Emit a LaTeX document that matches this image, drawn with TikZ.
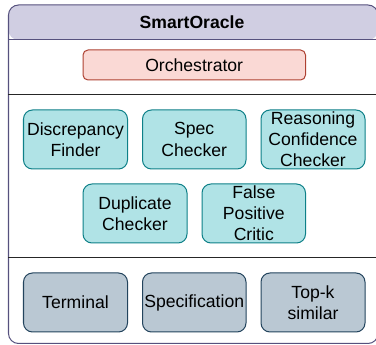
\documentclass[tikz,border=0pt]{standalone}
\usepackage{fontspec}
\setmainfont{Liberation Sans}
\definecolor{outerdraw}{HTML}{56517E}
\definecolor{headfill}{HTML}{D0CEE2}
\definecolor{orchfill}{HTML}{FAD9D5}
\definecolor{orchdraw}{HTML}{AE4132}
\definecolor{agentfill}{HTML}{B0E3E6}
\definecolor{agentdraw}{HTML}{0E8088}
\definecolor{toolfill}{HTML}{BAC8D3}
\definecolor{tooldraw}{HTML}{23445D}
\begin{document}
\begin{tikzpicture}[x=1pt,y=-1pt,
  every node/.style={font=\fontsize{17.6}{21.2}\selectfont, inner sep=0pt, align=center},
  agentbox/.style={draw=agentdraw, fill=agentfill, line width=1pt, rounded corners=9pt},
  toolbox/.style={draw=tooldraw, fill=toolfill, line width=1pt, rounded corners=9pt},
  sepline/.style={draw=black!85, line width=1pt}]
\useasboundingbox (0,0) rectangle (376,345);
\begin{scope}
\clip (0,0) rectangle (376,345);
% outer container
\fill[white, rounded corners=10pt] (8.5,5) rectangle (378,343.5);
\fill[headfill, rounded corners=10pt] (8.5,5) -- (378,5) -- (378,40) -- (8.5,40) -- cycle;
\draw[outerdraw, line width=1pt] (8.5,40) -- (378,40);
\draw[outerdraw, line width=1pt, rounded corners=10pt] (8.5,5) rectangle (378,343.5);
% separators
\draw[sepline] (8.5,95) -- (378,95);
\draw[sepline] (8.5,257.5) -- (378,257.5);
\end{scope}
\node[font=\fontsize{17.6}{21.2}\selectfont\bfseries] (title) at (192,22.5) {SmartOracle};
% orchestrator
\draw[orchdraw, fill=orchfill, line width=1pt, rounded corners=5pt] (83,50) rectangle (305.5,80);
\node (orch) at (194.2,65) {Orchestrator};
% agents row 1
\draw[agentbox] (23.5,110) rectangle (127.5,169);
\node (disc) at (75.5,139.5) {Discrepancy\\Finder};
\draw[agentbox] (142.5,110) rectangle (246,169);
\node (spec) at (194.2,139.5) {Spec\\Checker};
\draw[agentbox] (261,110) rectangle (365,169);
\node (reas) at (313,139.5) {Reasoning\\Confidence\\Checker};
% agents row 2
\draw[agentbox] (83,184) rectangle (187,243);
\node (dup) at (135,213.5) {Duplicate\\Checker};
\draw[agentbox] (202,184) rectangle (305.5,243);
\node (fpc) at (253.8,213.5) {False\\Positive\\Critic};
% tools
\draw[toolbox] (23.5,273) rectangle (127.5,332);
\node (term) at (75.5,302.5) {Terminal};
\draw[toolbox] (142.5,273) rectangle (246,332);
\node (specif) at (194.2,302.5) {Specification};
\draw[toolbox] (261,273) rectangle (365,332);
\node (topk) at (313,302.5) {Top-k\\similar};
\end{tikzpicture}
\end{document}
